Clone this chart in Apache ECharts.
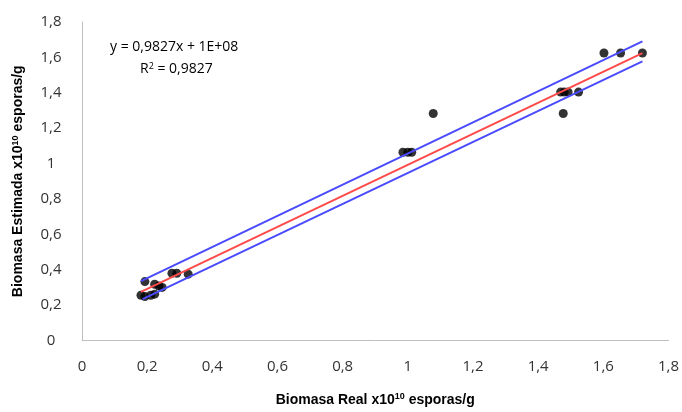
<!DOCTYPE html>
<html>
<head>
<meta charset="utf-8">
<script src="https://cdn.jsdelivr.net/npm/echarts@6/dist/echarts.min.js"></script>
<style>
  html, body { margin: 0; padding: 0; background: #fff; }
  #chart { width: 682px; height: 412px; }
</style>
</head>
<body>
<div id="chart"></div>
<script>
// valores (x10^10 esporas/g)
var realX = [0.181, 0.193, 0.211, 0.223, 0.193, 0.223, 0.236, 0.246, 0.276, 0.291, 0.326,
             0.985, 1.0, 1.012, 1.078,
             1.469, 1.48, 1.492, 1.524, 1.477, 1.602, 1.653, 1.72];
var estimY = [0.256, 0.248, 0.256, 0.262, 0.333, 0.318, 0.308, 0.300, 0.38, 0.38, 0.375,
              1.064, 1.064, 1.064, 1.283,
              1.404, 1.404, 1.404, 1.404, 1.283, 1.625, 1.625, 1.625];
// recta de regresión y bandas (extremos)
var trendX = [0.181, 1.72];
var trendY = [0.275, 1.624];
var upperX = [0.181, 1.72];
var upperY = [0.336, 1.69];
var lowerX = [0.186, 1.72];
var lowerY = [0.234, 1.578];

function pairs(xs, ys) {
  return xs.map(function (x, i) { return [x, ys[i]]; });
}
function fmt(v) {
  return String(Math.round(v * 10) / 10).replace('.', ',');
}

var chart = echarts.init(document.getElementById('chart'), null, { renderer: 'canvas' });

var nameRich = {
  b: { fontFamily: 'Liberation Sans', fontWeight: 'bold', fontSize: 14, color: '#000' },
  sup: { fontFamily: 'Liberation Sans', fontWeight: 'bold', fontSize: 9, color: '#000', verticalAlign: 'top', padding: [0, 0, 6, 0] }
};

var option = {
  animation: false,
  grid: { left: 82, right: 2, top: 22, bottom: 69 },
  xAxis: {
    type: 'value',
    min: 0, max: 1.8, interval: 0.2,
    splitLine: { show: false },
    axisTick: { show: false },
    axisLine: { lineStyle: { color: '#bfbfbf', width: 1 } },
    axisLabel: {
      formatter: fmt, color: '#333', fontSize: 15, fontFamily: 'Open Sans',
      margin: 19, showMaxLabel: true, showMinLabel: true
    },
    name: '{b|Biomasa Real x10}{sup|10}{b| esporas/g}',
    nameLocation: 'middle',
    nameGap: 52,
    nameTextStyle: { rich: nameRich }
  },
  yAxis: {
    type: 'value',
    min: 0, max: 1.8, interval: 0.2,
    splitLine: { show: false },
    axisTick: { show: false },
    axisLine: { show: true, lineStyle: { color: '#bfbfbf', width: 1 } },
    axisLabel: {
      formatter: fmt, color: '#333', fontSize: 15, fontFamily: 'Open Sans',
      align: 'center', margin: 31, showMaxLabel: true
    },
    name: '{b|Biomasa Estimada x10}{sup|10}{b| esporas/g}',
    nameLocation: 'middle',
    nameGap: 56,
    nameTextStyle: { rich: nameRich }
  },
  series: [
    {
      type: 'scatter',
      data: pairs(realX, estimY),
      symbolSize: 9,
      itemStyle: { color: '#000' },
      z: 2
    },
    {
      type: 'line',
      data: pairs(trendX, trendY),
      showSymbol: false,
      lineStyle: { color: '#ff4a4a', width: 2 },
      z: 3
    },
    {
      type: 'line',
      data: pairs(upperX, upperY),
      showSymbol: false,
      lineStyle: { color: '#4a4aff', width: 2 },
      z: 3
    },
    {
      type: 'line',
      data: pairs(lowerX, lowerY),
      showSymbol: false,
      lineStyle: { color: '#4a4aff', width: 2 },
      z: 3
    }
  ],
  graphic: [
    {
      type: 'text', left: 110, top: 40,
      style: { text: 'y = 0,9827x + 1E+08', fill: '#000', font: '14px "Open Sans"' }
    },
    {
      type: 'text', left: 140, top: 62,
      style: {
        text: '{a|R}{s|2}{a| = 0,9827}',
        rich: {
          a: { fill: '#000', fontSize: 14, fontFamily: 'Open Sans' },
          s: { fill: '#000', fontSize: 9, fontFamily: 'Open Sans', verticalAlign: 'top', padding: [0, 0, 6, 0] }
        }
      }
    }
  ]
};

chart.setOption(option);
</script>
</body>
</html>
